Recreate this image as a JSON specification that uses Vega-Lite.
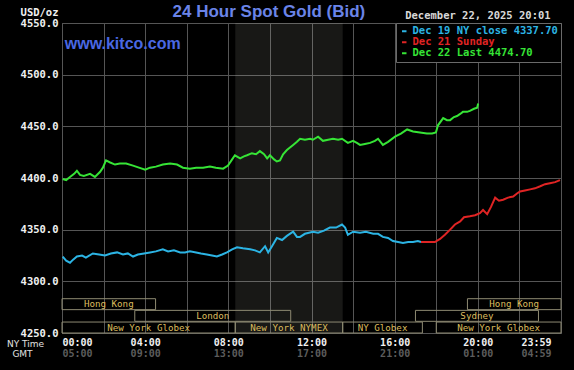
{
  "$schema": "https://vega.github.io/schema/vega-lite/v6.json",
  "width": 499,
  "height": 310,
  "autosize": "none",
  "padding": {"left": 62, "top": 23, "right": 13, "bottom": 37},
  "background": "#000000",
  "config": {
    "view": {"stroke": "#6a6a6a", "strokeWidth": 1},
    "axis": {"domain": false, "ticks": false, "tickSize": 0, "gridColor": "#555555", "gridWidth": 1}
  },
  "datasets": {
    "zones": [{"name": "New York NYMEX", "start": 500, "end": 810}],
    "sessions": [
      {"name": "Hong Kong", "start": 0, "end": 270, "row": 3},
      {"name": "London", "start": 210, "end": 660, "row": 2},
      {"name": "New York Globex", "start": 0, "end": 500, "row": 1},
      {"name": "New York NYMEX", "start": 500, "end": 810, "row": 1},
      {"name": "NY Globex", "start": 810, "end": 1040, "row": 1},
      {"name": "Sydney", "start": 1020, "end": 1375, "row": 2},
      {"name": "New York Globex", "start": 1080, "end": 1440, "row": 1},
      {"name": "Hong Kong", "start": 1170, "end": 1440, "row": 3}
    ],
    "prices": [
      {"s": "Dec 19", "m": 2, "p": 4324}, {"s": "Dec 19", "m": 12, "p": 4320}, {"s": "Dec 19", "m": 23, "p": 4318},
      {"s": "Dec 19", "m": 32, "p": 4321}, {"s": "Dec 19", "m": 43, "p": 4324}, {"s": "Dec 19", "m": 58, "p": 4325},
      {"s": "Dec 19", "m": 69, "p": 4323}, {"s": "Dec 19", "m": 89, "p": 4327}, {"s": "Dec 19", "m": 107, "p": 4326},
      {"s": "Dec 19", "m": 124, "p": 4325}, {"s": "Dec 19", "m": 141, "p": 4327}, {"s": "Dec 19", "m": 159, "p": 4328},
      {"s": "Dec 19", "m": 176, "p": 4326}, {"s": "Dec 19", "m": 190, "p": 4327}, {"s": "Dec 19", "m": 205, "p": 4324},
      {"s": "Dec 19", "m": 219, "p": 4326}, {"s": "Dec 19", "m": 237, "p": 4327}, {"s": "Dec 19", "m": 254, "p": 4328},
      {"s": "Dec 19", "m": 271, "p": 4329}, {"s": "Dec 19", "m": 291, "p": 4331}, {"s": "Dec 19", "m": 306, "p": 4329},
      {"s": "Dec 19", "m": 323, "p": 4330}, {"s": "Dec 19", "m": 341, "p": 4328}, {"s": "Dec 19", "m": 355, "p": 4328},
      {"s": "Dec 19", "m": 369, "p": 4329}, {"s": "Dec 19", "m": 387, "p": 4328}, {"s": "Dec 19", "m": 401, "p": 4327},
      {"s": "Dec 19", "m": 418, "p": 4326}, {"s": "Dec 19", "m": 433, "p": 4325}, {"s": "Dec 19", "m": 447, "p": 4324},
      {"s": "Dec 19", "m": 462, "p": 4326}, {"s": "Dec 19", "m": 476, "p": 4328}, {"s": "Dec 19", "m": 491, "p": 4331},
      {"s": "Dec 19", "m": 505, "p": 4333}, {"s": "Dec 19", "m": 522, "p": 4332}, {"s": "Dec 19", "m": 543, "p": 4331},
      {"s": "Dec 19", "m": 557, "p": 4330}, {"s": "Dec 19", "m": 571, "p": 4328}, {"s": "Dec 19", "m": 586, "p": 4334},
      {"s": "Dec 19", "m": 595, "p": 4328}, {"s": "Dec 19", "m": 606, "p": 4334}, {"s": "Dec 19", "m": 620, "p": 4342},
      {"s": "Dec 19", "m": 635, "p": 4340}, {"s": "Dec 19", "m": 649, "p": 4344}, {"s": "Dec 19", "m": 667, "p": 4348},
      {"s": "Dec 19", "m": 678, "p": 4343}, {"s": "Dec 19", "m": 687, "p": 4343}, {"s": "Dec 19", "m": 701, "p": 4346},
      {"s": "Dec 19", "m": 724, "p": 4348}, {"s": "Dec 19", "m": 739, "p": 4347}, {"s": "Dec 19", "m": 756, "p": 4349},
      {"s": "Dec 19", "m": 773, "p": 4352}, {"s": "Dec 19", "m": 791, "p": 4352}, {"s": "Dec 19", "m": 808, "p": 4355},
      {"s": "Dec 19", "m": 817, "p": 4352}, {"s": "Dec 19", "m": 825, "p": 4345}, {"s": "Dec 19", "m": 840, "p": 4348},
      {"s": "Dec 19", "m": 860, "p": 4347}, {"s": "Dec 19", "m": 877, "p": 4348}, {"s": "Dec 19", "m": 898, "p": 4346},
      {"s": "Dec 19", "m": 912, "p": 4346}, {"s": "Dec 19", "m": 926, "p": 4343}, {"s": "Dec 19", "m": 941, "p": 4342},
      {"s": "Dec 19", "m": 955, "p": 4339}, {"s": "Dec 19", "m": 970, "p": 4338}, {"s": "Dec 19", "m": 984, "p": 4337},
      {"s": "Dec 19", "m": 999, "p": 4338}, {"s": "Dec 19", "m": 1013, "p": 4338}, {"s": "Dec 19", "m": 1027, "p": 4339},
      {"s": "Dec 19", "m": 1036, "p": 4338},
      {"s": "Dec 21", "m": 1036, "p": 4338}, {"s": "Dec 21", "m": 1056, "p": 4338}, {"s": "Dec 21", "m": 1076, "p": 4338},
      {"s": "Dec 21", "m": 1091, "p": 4341}, {"s": "Dec 21", "m": 1105, "p": 4345}, {"s": "Dec 21", "m": 1120, "p": 4350},
      {"s": "Dec 21", "m": 1134, "p": 4355}, {"s": "Dec 21", "m": 1149, "p": 4358}, {"s": "Dec 21", "m": 1160, "p": 4362},
      {"s": "Dec 21", "m": 1177, "p": 4363}, {"s": "Dec 21", "m": 1192, "p": 4364}, {"s": "Dec 21", "m": 1206, "p": 4366},
      {"s": "Dec 21", "m": 1215, "p": 4369}, {"s": "Dec 21", "m": 1227, "p": 4365}, {"s": "Dec 21", "m": 1238, "p": 4372},
      {"s": "Dec 21", "m": 1250, "p": 4381}, {"s": "Dec 21", "m": 1261, "p": 4378}, {"s": "Dec 21", "m": 1273, "p": 4379},
      {"s": "Dec 21", "m": 1287, "p": 4381}, {"s": "Dec 21", "m": 1302, "p": 4382}, {"s": "Dec 21", "m": 1313, "p": 4385},
      {"s": "Dec 21", "m": 1322, "p": 4387}, {"s": "Dec 21", "m": 1336, "p": 4388}, {"s": "Dec 21", "m": 1351, "p": 4389},
      {"s": "Dec 21", "m": 1365, "p": 4390}, {"s": "Dec 21", "m": 1380, "p": 4392}, {"s": "Dec 21", "m": 1394, "p": 4394},
      {"s": "Dec 21", "m": 1408, "p": 4395}, {"s": "Dec 21", "m": 1423, "p": 4396}, {"s": "Dec 21", "m": 1437, "p": 4398},
      {"s": "Dec 22", "m": 2, "p": 4399}, {"s": "Dec 22", "m": 12, "p": 4398}, {"s": "Dec 22", "m": 23, "p": 4401},
      {"s": "Dec 22", "m": 35, "p": 4404}, {"s": "Dec 22", "m": 43, "p": 4407}, {"s": "Dec 22", "m": 52, "p": 4403},
      {"s": "Dec 22", "m": 63, "p": 4402}, {"s": "Dec 22", "m": 81, "p": 4404}, {"s": "Dec 22", "m": 95, "p": 4401},
      {"s": "Dec 22", "m": 110, "p": 4406}, {"s": "Dec 22", "m": 118, "p": 4410}, {"s": "Dec 22", "m": 127, "p": 4417},
      {"s": "Dec 22", "m": 139, "p": 4415}, {"s": "Dec 22", "m": 153, "p": 4413}, {"s": "Dec 22", "m": 167, "p": 4414},
      {"s": "Dec 22", "m": 185, "p": 4414}, {"s": "Dec 22", "m": 205, "p": 4412}, {"s": "Dec 22", "m": 222, "p": 4410},
      {"s": "Dec 22", "m": 240, "p": 4408}, {"s": "Dec 22", "m": 254, "p": 4410}, {"s": "Dec 22", "m": 271, "p": 4411},
      {"s": "Dec 22", "m": 291, "p": 4413}, {"s": "Dec 22", "m": 312, "p": 4414}, {"s": "Dec 22", "m": 332, "p": 4413},
      {"s": "Dec 22", "m": 349, "p": 4410}, {"s": "Dec 22", "m": 369, "p": 4409}, {"s": "Dec 22", "m": 387, "p": 4410},
      {"s": "Dec 22", "m": 407, "p": 4410}, {"s": "Dec 22", "m": 427, "p": 4411}, {"s": "Dec 22", "m": 444, "p": 4410},
      {"s": "Dec 22", "m": 465, "p": 4409}, {"s": "Dec 22", "m": 479, "p": 4412}, {"s": "Dec 22", "m": 491, "p": 4418},
      {"s": "Dec 22", "m": 499, "p": 4422}, {"s": "Dec 22", "m": 514, "p": 4419}, {"s": "Dec 22", "m": 525, "p": 4421},
      {"s": "Dec 22", "m": 534, "p": 4422}, {"s": "Dec 22", "m": 548, "p": 4424}, {"s": "Dec 22", "m": 560, "p": 4423},
      {"s": "Dec 22", "m": 571, "p": 4426}, {"s": "Dec 22", "m": 583, "p": 4423}, {"s": "Dec 22", "m": 592, "p": 4419},
      {"s": "Dec 22", "m": 600, "p": 4422}, {"s": "Dec 22", "m": 612, "p": 4418}, {"s": "Dec 22", "m": 620, "p": 4416},
      {"s": "Dec 22", "m": 629, "p": 4417}, {"s": "Dec 22", "m": 638, "p": 4423}, {"s": "Dec 22", "m": 649, "p": 4427},
      {"s": "Dec 22", "m": 667, "p": 4432}, {"s": "Dec 22", "m": 678, "p": 4435}, {"s": "Dec 22", "m": 687, "p": 4438},
      {"s": "Dec 22", "m": 701, "p": 4437}, {"s": "Dec 22", "m": 716, "p": 4438}, {"s": "Dec 22", "m": 724, "p": 4437},
      {"s": "Dec 22", "m": 739, "p": 4440}, {"s": "Dec 22", "m": 753, "p": 4436}, {"s": "Dec 22", "m": 768, "p": 4437},
      {"s": "Dec 22", "m": 782, "p": 4438}, {"s": "Dec 22", "m": 797, "p": 4437}, {"s": "Dec 22", "m": 808, "p": 4438},
      {"s": "Dec 22", "m": 825, "p": 4434}, {"s": "Dec 22", "m": 840, "p": 4436}, {"s": "Dec 22", "m": 851, "p": 4434},
      {"s": "Dec 22", "m": 860, "p": 4432}, {"s": "Dec 22", "m": 874, "p": 4433}, {"s": "Dec 22", "m": 889, "p": 4434},
      {"s": "Dec 22", "m": 903, "p": 4436}, {"s": "Dec 22", "m": 912, "p": 4438}, {"s": "Dec 22", "m": 926, "p": 4432},
      {"s": "Dec 22", "m": 941, "p": 4435}, {"s": "Dec 22", "m": 961, "p": 4440}, {"s": "Dec 22", "m": 978, "p": 4443},
      {"s": "Dec 22", "m": 996, "p": 4447}, {"s": "Dec 22", "m": 1013, "p": 4445}, {"s": "Dec 22", "m": 1033, "p": 4444},
      {"s": "Dec 22", "m": 1053, "p": 4443}, {"s": "Dec 22", "m": 1068, "p": 4443}, {"s": "Dec 22", "m": 1079, "p": 4444},
      {"s": "Dec 22", "m": 1085, "p": 4451}, {"s": "Dec 22", "m": 1100, "p": 4458}, {"s": "Dec 22", "m": 1111, "p": 4456},
      {"s": "Dec 22", "m": 1120, "p": 4456}, {"s": "Dec 22", "m": 1131, "p": 4459}, {"s": "Dec 22", "m": 1140, "p": 4460},
      {"s": "Dec 22", "m": 1149, "p": 4462}, {"s": "Dec 22", "m": 1157, "p": 4464}, {"s": "Dec 22", "m": 1169, "p": 4464},
      {"s": "Dec 22", "m": 1177, "p": 4465}, {"s": "Dec 22", "m": 1189, "p": 4467}, {"s": "Dec 22", "m": 1198, "p": 4468},
      {"s": "Dec 22", "m": 1201, "p": 4472}
    ]
  },
  "resolve": {"axis": {"x": "independent", "y": "independent"}},
  "layer": [
    {
      "data": {"name": "zones"},
      "mark": {"type": "rect", "fill": "#e8f0d8", "opacity": 0.1},
      "encoding": {
        "x": {
          "field": "start", "type": "quantitative",
          "scale": {"domain": [0, 1440], "nice": false},
          "axis": {
            "orient": "bottom",
            "values": [0, 240, 480, 720, 960, 1200, 1440],
            "labelExpr": "datum.value == 1440 ? '04:59' : ((floor(datum.value / 60) + 5) % 24 < 10 ? '0' : '') + ((floor(datum.value / 60) + 5) % 24) + ':00'",
            "grid": false,
            "labelColor": "#5c5c5c",
            "labelFont": "DejaVu Sans Mono",
            "labelFontWeight": "bold",
            "labelFontSize": 10,
            "labelPadding": 15,
            "labelOffset": {"expr": "datum.value == 1440 ? -10 : 0"},
            "title": "GMT",
            "titleX": -40,
            "titleY": 20,
            "titleAlign": "center",
            "titleBaseline": "middle",
            "titleColor": "#e0e0e0",
            "titleFont": "DejaVu Sans",
            "titleFontSize": 9,
            "titleFontWeight": "normal"
          }
        },
        "x2": {"field": "end"}
      }
    },
    {
      "data": {"name": "prices"},
      "mark": {"type": "line", "strokeWidth": 2, "interpolate": "linear"},
      "encoding": {
        "x": {
          "field": "m", "type": "quantitative",
          "scale": {"domain": [0, 1440], "nice": false},
          "axis": {
            "orient": "bottom",
            "values": [0, 120, 240, 360, 480, 600, 720, 840, 960, 1080, 1200, 1320, 1440],
            "labelExpr": "datum.value % 240 != 0 ? '' : (datum.value == 1440 ? '23:59' : (floor(datum.value / 60) < 10 ? '0' : '') + floor(datum.value / 60) + ':00')",
            "grid": true,
            "labelColor": "#f0f0f0",
            "labelFont": "DejaVu Sans Mono",
            "labelFontWeight": "bold",
            "labelFontSize": 10,
            "labelPadding": 4,
            "labelOffset": {"expr": "datum.value == 1440 ? -10 : 0"},
            "labelOverlap": false,
            "title": "NY Time",
            "titleX": -37,
            "titleY": 10,
            "titleAlign": "center",
            "titleBaseline": "middle",
            "titleColor": "#e0e0e0",
            "titleFont": "DejaVu Sans",
            "titleFontSize": 9,
            "titleFontWeight": "normal"
          }
        },
        "y": {
          "field": "p", "type": "quantitative",
          "scale": {"domain": [4250, 4550], "nice": false, "zero": false},
          "axis": {
            "orient": "left",
            "values": [4250, 4300, 4350, 4400, 4450, 4500, 4550],
            "format": ".1f",
            "grid": true,
            "labelColor": "#f0f0f0",
            "labelFont": "DejaVu Sans Mono",
            "labelFontWeight": "bold",
            "labelFontSize": 10.5,
            "labelPadding": 4,
            "title": "USD/oz",
            "titleAngle": 0,
            "titleX": -4,
            "titleY": -11,
            "titleAlign": "right",
            "titleBaseline": "middle",
            "titleColor": "#f0f0f0",
            "titleFont": "DejaVu Sans Mono",
            "titleFontSize": 10.5,
            "titleFontWeight": "bold"
          }
        },
        "color": {
          "field": "s", "type": "nominal",
          "scale": {"domain": ["Dec 19", "Dec 21", "Dec 22"], "range": ["#2cb4e4", "#e02424", "#36e436"]},
          "legend": {
            "orient": "top-right",
            "offset": 0,
            "title": null,
            "padding": 3,
            "fillColor": "#000000",
            "strokeColor": "#6a6a6a",
            "symbolType": "stroke",
            "symbolSize": 20,
            "symbolStrokeWidth": 2,
            "rowPadding": 0,
            "labelOffset": 3,
            "labelLimit": 300,
            "labelFont": "DejaVu Sans Mono",
            "labelFontWeight": "bold",
            "labelFontSize": 10.5,
            "labelExpr": "datum.value == 'Dec 19' ? 'Dec 19 NY close 4337.70' : (datum.value == 'Dec 21' ? 'Dec 21 Sunday' : 'Dec 22 Last 4474.70')",
            "encode": {"labels": {"update": {"fill": {"scale": "color", "field": "value"}}}}
          }
        }
      }
    },
    {
      "data": {"name": "sessions"},
      "transform": [
        {"calculate": "4250 + (datum.row - 1) * 11.3", "as": "lo"},
        {"calculate": "4250 + (datum.row - 1) * 11.3 + 10.6", "as": "hi"}
      ],
      "mark": {"type": "rect", "fillOpacity": 0, "stroke": "#8e8a72", "strokeWidth": 1},
      "encoding": {
        "x": {"field": "start", "type": "quantitative", "axis": null},
        "x2": {"field": "end"},
        "y": {"field": "lo", "type": "quantitative", "axis": null},
        "y2": {"field": "hi"}
      }
    },
    {
      "data": {"name": "sessions"},
      "transform": [
        {"calculate": "(datum.start + datum.end) / 2", "as": "mid"},
        {"calculate": "4250 + (datum.row - 1) * 11.3 + 5.3", "as": "ym"}
      ],
      "mark": {"type": "text", "font": "DejaVu Sans Mono", "fontSize": 9.2, "color": "#dcbc5e", "baseline": "middle", "align": "center"},
      "encoding": {
        "x": {"field": "mid", "type": "quantitative", "axis": null},
        "y": {"field": "ym", "type": "quantitative", "axis": null},
        "text": {"field": "name"}
      }
    },
    {
      "data": {"values": [{"label": "24 Hour Spot Gold (Bid)"}]},
      "mark": {"type": "text", "font": "Liberation Sans", "fontSize": 17, "fontWeight": "bold", "color": "#6a84e8", "align": "center", "baseline": "middle"},
      "encoding": {
        "x": {"datum": 597, "type": "quantitative", "axis": null},
        "y": {"datum": 4560.5, "type": "quantitative", "axis": null},
        "text": {"field": "label"}
      }
    },
    {
      "data": {"values": [{"label": "www.kitco.com"}]},
      "mark": {"type": "text", "font": "Liberation Sans", "fontSize": 16, "fontWeight": "bold", "color": "#4a68e2", "align": "left", "baseline": "middle"},
      "encoding": {
        "x": {"datum": 8, "type": "quantitative", "axis": null},
        "y": {"datum": 4530, "type": "quantitative", "axis": null},
        "text": {"field": "label"}
      }
    },
    {
      "data": {"values": [{"label": "December 22, 2025 20:01"}]},
      "mark": {"type": "text", "font": "DejaVu Sans Mono", "fontSize": 10.5, "fontWeight": "bold", "color": "#d8d8d8", "align": "right", "baseline": "middle"},
      "encoding": {
        "x": {"datum": 1410, "type": "quantitative", "axis": null},
        "y": {"datum": 4557, "type": "quantitative", "axis": null},
        "text": {"field": "label"}
      }
    }
  ]
}
